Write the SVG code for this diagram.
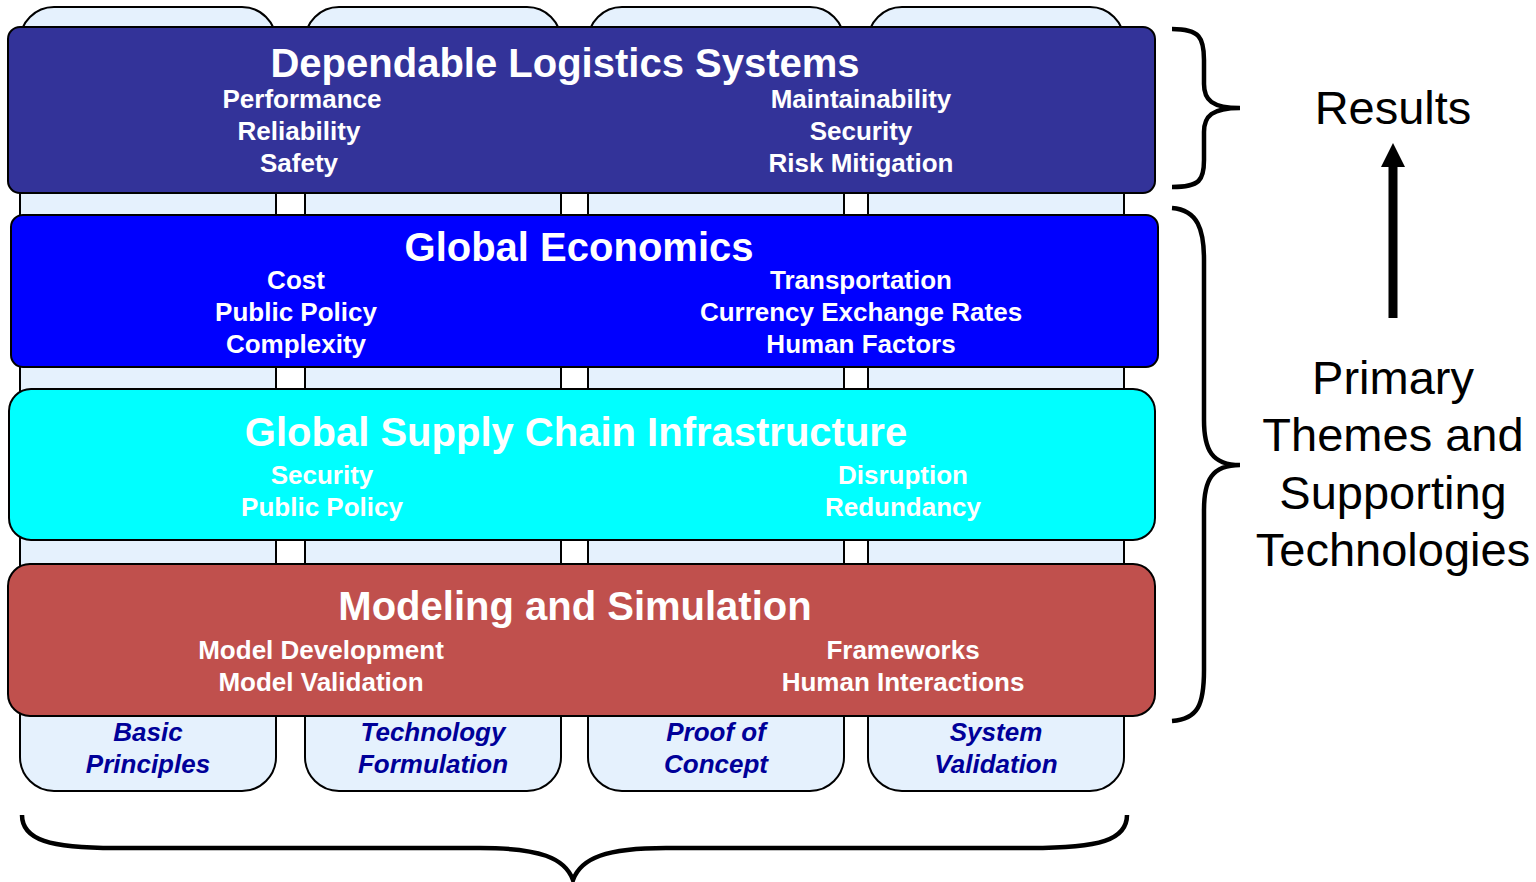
<svg xmlns="http://www.w3.org/2000/svg" width="1536" height="882" viewBox="0 0 1536 882">
<style>
.pillar{fill:#E5F1FD;stroke:#000;stroke-width:2}
.band{stroke:#000;stroke-width:2}
.t{font-family:"Liberation Sans",Arial,sans-serif;font-weight:bold;fill:#fff;text-anchor:middle}
.title{font-size:40px}
.item{font-size:26px}
.plab{font-family:"Liberation Sans",Arial,sans-serif;font-weight:bold;font-style:italic;font-size:26px;fill:#000099;text-anchor:middle}
.side{font-family:"Liberation Sans",Arial,sans-serif;font-size:47px;fill:#000;text-anchor:middle}
.brace{fill:none;stroke:#000;stroke-width:4.5}
</style>
<rect width="1536" height="882" fill="#fff"/>
<g id="pillars">
<g id="pillar-basic"><rect class="pillar" x="20" y="7" width="256" height="784" rx="34"/><text class="plab" x="148" y="741">Basic</text><text class="plab" x="148" y="773">Principles</text></g>
<g id="pillar-tech"><rect class="pillar" x="305" y="7" width="256" height="784" rx="34"/><text class="plab" x="433" y="741">Technology</text><text class="plab" x="433" y="773">Formulation</text></g>
<g id="pillar-proof"><rect class="pillar" x="588" y="7" width="256" height="784" rx="34"/><text class="plab" x="716" y="741">Proof of</text><text class="plab" x="716" y="773">Concept</text></g>
<g id="pillar-system"><rect class="pillar" x="868" y="7" width="256" height="784" rx="34"/><text class="plab" x="996" y="741">System</text><text class="plab" x="996" y="773">Validation</text></g>
</g>
<g id="band-dependable">
<rect class="band" x="8" y="27" width="1147" height="166" rx="12" fill="#333399"/>
<text class="t title" x="565" y="77">Dependable Logistics Systems</text>
<text class="t item" x="302" y="108">Performance</text>
<text class="t item" x="299" y="140">Reliability</text>
<text class="t item" x="299" y="172">Safety</text>
<text class="t item" x="861" y="108">Maintainability</text>
<text class="t item" x="861" y="140">Security</text>
<text class="t item" x="861" y="172">Risk Mitigation</text>
</g>
<g id="band-economics">
<rect class="band" x="11" y="215" width="1147" height="152" rx="12" fill="#0000FF"/>
<text class="t title" x="579" y="261">Global Economics</text>
<text class="t item" x="296" y="289">Cost</text>
<text class="t item" x="296" y="321">Public Policy</text>
<text class="t item" x="296" y="353">Complexity</text>
<text class="t item" x="861" y="289">Transportation</text>
<text class="t item" x="861" y="321">Currency Exchange Rates</text>
<text class="t item" x="861" y="353">Human Factors</text>
</g>
<g id="band-supply">
<rect class="band" x="9" y="389" width="1146" height="151" rx="22" fill="#00FFFF"/>
<text class="t title" x="576" y="446">Global Supply Chain Infrastructure</text>
<text class="t item" x="322" y="484">Security</text>
<text class="t item" x="322" y="516">Public Policy</text>
<text class="t item" x="903" y="484">Disruption</text>
<text class="t item" x="903" y="516">Redundancy</text>
</g>
<g id="band-modeling">
<rect class="band" x="8" y="564" width="1147" height="152" rx="22" fill="#C0504D"/>
<text class="t title" x="575" y="620">Modeling and Simulation</text>
<text class="t item" x="321" y="659">Model Development</text>
<text class="t item" x="321" y="691">Model Validation</text>
<text class="t item" x="903" y="659">Frameworks</text>
<text class="t item" x="903" y="691">Human Interactions</text>
</g>
<g id="connectors">
<path class="brace" d="M1172,29 C1200,29 1204,38 1204,60 L1204,84 C1204,100 1212,108 1240,108 C1212,108 1204,116 1204,132 L1204,160 C1204,180 1200,187 1172,187"/>
<path class="brace" d="M1172,208 C1198,210 1204,230 1204,260 L1204,420 C1204,450 1212,465 1240,465 C1212,465 1204,480 1204,510 L1204,670 C1204,705 1198,719 1172,721"/>
<path class="brace" d="M22,815 C22,840 50,848 115,848 L480,848 C540,848 565,858 573,880 C581,858 606,848 666,848 L1030,848 C1100,848 1127,840 1127,815"/>
<line x1="1393" y1="318" x2="1393" y2="165" stroke="#000" stroke-width="9"/>
<polygon points="1393,143 1381,167 1405,167" fill="#000"/>
</g>
<g id="labels">
<text class="side" x="1393" y="124">Results</text>
<text class="side" x="1393" y="394">Primary</text>
<text class="side" x="1393" y="451">Themes and</text>
<text class="side" x="1393" y="509">Supporting</text>
<text class="side" x="1393" y="566">Technologies</text>
</g>
</svg>
